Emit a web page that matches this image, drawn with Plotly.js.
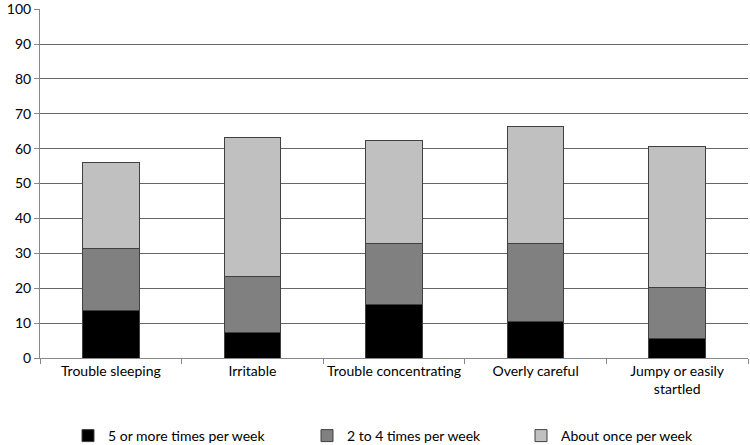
<!DOCTYPE html>
<html>
<head>
<meta charset="utf-8">
<script src="https://cdn.plot.ly/plotly-3.0.1.min.js"></script>
<style>html,body{margin:0;padding:0;background:#fff;}#chart{width:750px;height:445px;}</style>
</head>
<body>
<div id="chart"></div>
<script>
var categories = ["Trouble sleeping", "Irritable", "Trouble concentrating", "Overly careful", "Jumpy or easily<br>startled"];
var seriesNames = ["5 or more times per week", "2 to 4 times per week", "About once per week"];
var fiveOrMore = [13.7, 7.3, 15.3, 10.4, 5.7];
var twoToFour = [17.6, 16.0, 17.5, 22.4, 14.4];
var onceWeek = [24.7, 39.8, 29.6, 33.6, 40.6];
var yTicks = [0, 10, 20, 30, 40, 50, 60, 70, 80, 90, 100];

var colors = ["#000000", "#808080", "#c0c0c0"];
var values = [fiveOrMore, twoToFour, onceWeek];
var legendIds = ["legend", "legend2", "legend3"];
var traces = values.map(function (v, i) {
  return {
    type: "bar",
    name: seriesNames[i],
    x: categories,
    y: v,
    legend: legendIds[i],
    marker: { color: colors[i], line: { color: "#404040", width: 1 } },
    hoverinfo: "y"
  };
});

function legendAt(px) {
  return {
    xref: "container", yref: "container",
    x: px / 750, xanchor: "left",
    y: 9 / 445, yanchor: "middle",
    bgcolor: "rgba(0,0,0,0)",
    font: { size: 14 },
    itemwidth: 30
  };
}

var layout = {
  width: 750,
  height: 445,
  barmode: "stack",
  bargap: 0.6,
  paper_bgcolor: "#fff",
  plot_bgcolor: "#fff",
  font: { family: "Lato, 'Open Sans', sans-serif", size: 14, color: "#000" },
  margin: { l: 40, r: 2, t: 9, b: 87, autoexpand: false },
  showlegend: true,
  legend: legendAt(68),
  legend2: legendAt(307),
  legend3: legendAt(521),
  xaxis: {
    type: "category",
    automargin: false,
    tickangle: 0,
    showline: true,
    linecolor: "#888",
    linewidth: 1,
    ticks: "outside",
    tickson: "boundaries",
    ticklen: 5,
    tickcolor: "#888",
    showgrid: false,
    tickfont: { size: 14 }
  },
  yaxis: {
    automargin: false,
    range: [0, 100.05],
    tickvals: yTicks,
    ticklabeloverflow: "allow",
    ticks: "outside",
    ticklen: 5,
    tickcolor: "#888",
    showline: true,
    linecolor: "#888",
    linewidth: 1,
    showgrid: true,
    gridcolor: "#666",
    gridwidth: 1,
    zeroline: false,
    tickfont: { size: 14 }
  }
};

Plotly.newPlot("chart", traces, layout, { displayModeBar: false, staticPlot: true });
</script>
</body>
</html>
